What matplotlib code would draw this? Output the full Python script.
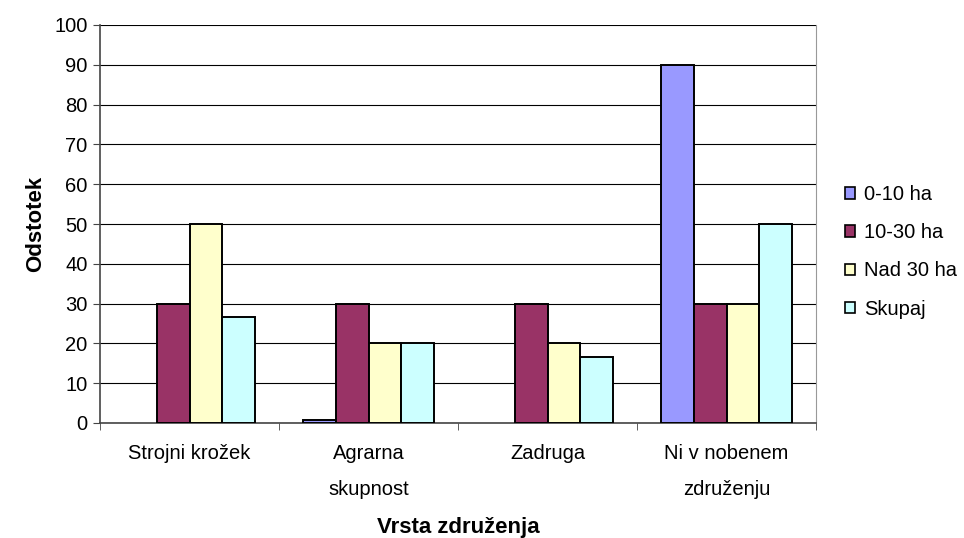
import matplotlib
matplotlib.use("Agg")
import matplotlib.pyplot as plt
from matplotlib.patches import Patch
import numpy as np

plt.rcParams['font.family'] = ['Liberation Sans', 'DejaVu Sans']

categories = ["Strojni krožek", "Agrarna\nskupnost", "Zadruga", "Ni v nobenem\nzdruženju"]
series_names = ["0-10 ha", "10-30 ha", "Nad 30 ha", "Skupaj"]
v_0_10 = [0, 0.8, 0, 90]
v_10_30 = [30, 30, 30, 30]
v_nad30 = [50, 20, 20, 30]
v_skupaj = [26.7, 20, 16.7, 50]
colors = ["#9999FF", "#993366", "#FFFFCC", "#CCFFFF"]
yticks = list(range(0, 101, 10))

fig = plt.figure(figsize=(9.64, 5.38), dpi=100)
ax = fig.add_axes([100/964, 1-423/538, 716/964, 398/538])

x = np.arange(len(categories))
w = 1/5.5
series = [v_0_10, v_10_30, v_nad30, v_skupaj]
for i, (vals, name, c) in enumerate(zip(series, series_names, colors)):
    vals = np.asarray(vals, dtype=float)
    lws = [1.4 if v > 0 else 0 for v in vals]
    ax.bar(x + (i - 1.5) * w, vals, width=w, color=c, edgecolor="black",
           linewidth=lws, zorder=3)

ax.set_xlim(-0.5, len(categories) - 0.5)
ax.set_ylim(0, 100)
ax.set_yticks(yticks)
ax.yaxis.grid(True, color="black", linewidth=0.8, zorder=0)
ax.set_axisbelow(True)

ax.set_xticks(x)
ax.set_xticklabels(categories, fontsize=14.5, linespacing=2.15)
ax.set_xticks(np.arange(-0.5, len(categories), 1), minor=True)
ax.tick_params(axis="x", which="major", length=0, pad=15)
ax.tick_params(axis="x", which="minor", length=5, direction="out", color="#444444")
ax.tick_params(axis="y", labelsize=14.5, length=5, direction="out", color="#444444", pad=4)

ax.spines["top"].set_visible(False)
ax.spines["right"].set_color("#999999")
ax.spines["left"].set_color("#444444")
ax.spines["left"].set_linewidth(1.2)
ax.spines["bottom"].set_color("#444444")
ax.spines["bottom"].set_linewidth(1.2)

ax.set_ylabel("Odstotek", fontsize=16, fontweight="bold", labelpad=6)
ax.set_xlabel("Vrsta združenja", fontsize=16, fontweight="bold", labelpad=13)

handles = [Patch(facecolor=c, edgecolor="black", linewidth=1.2) for c in colors]
leg = ax.legend(handles, series_names, loc="center left", bbox_to_anchor=(1.0, 0.43),
                frameon=False, fontsize=14.5, handlelength=0.5, handleheight=0.5,
                handletextpad=0.45, labelspacing=0.95, borderaxespad=1.05)

fig.savefig("out.png", dpi=100)
